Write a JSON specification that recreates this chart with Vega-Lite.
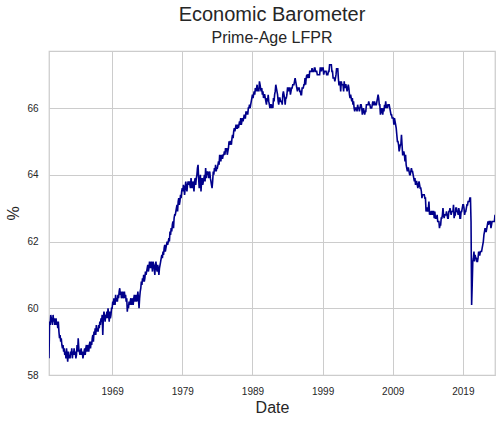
{
"$schema": "https://vega.github.io/schema/vega-lite/v6.json",
"autosize": "none",
"padding": {"left": 49, "top": 51, "right": 6, "bottom": 47},
"width": 446,
"height": 324,
"background": "white",
"title": {"text": "Economic Barometer", "subtitle": "Prime-Age LFPR", "font": "Liberation Sans", "subtitleFont": "Liberation Sans", "fontSize": 20, "subtitleFontSize": 16, "fontWeight": "normal", "color": "#262626", "subtitleColor": "#262626", "anchor": "middle", "frame": "group", "offset": 5, "subtitlePadding": 5},
"config": {
"view": {"stroke": "#cccccc", "strokeWidth": 1.25},
"axis": {"domain": false, "ticks": false, "grid": true, "gridColor": "#cccccc", "gridWidth": 1, "labelFont": "Liberation Sans", "labelFontSize": 10, "labelColor": "#262626", "titleFont": "Liberation Sans", "titleFontSize": 16, "titleFontWeight": "normal", "titleColor": "#262626"}
},
"data": {"values": [
{"d":"1960-01","v":58.5},{"d":"1960-02","v":59.6},{"d":"1960-03","v":59.5},{"d":"1960-04","v":59.8},{"d":"1960-05","v":59.7},{"d":"1960-06","v":59.6},{"d":"1960-07","v":59.5},{"d":"1960-08","v":59.8},{"d":"1960-09","v":59.6},{"d":"1960-10","v":59.7},{"d":"1960-11","v":59.5},{"d":"1960-12","v":59.6},
{"d":"1961-01","v":59.7},{"d":"1961-02","v":59.5},{"d":"1961-03","v":59.6},{"d":"1961-04","v":59.4},{"d":"1961-05","v":59.6},{"d":"1961-06","v":59.3},{"d":"1961-07","v":59.1},{"d":"1961-08","v":59.2},{"d":"1961-09","v":59.0},{"d":"1961-10","v":59.1},{"d":"1961-11","v":58.9},{"d":"1961-12","v":58.8},
{"d":"1962-01","v":58.9},{"d":"1962-02","v":58.7},{"d":"1962-03","v":58.8},{"d":"1962-04","v":58.6},{"d":"1962-05","v":58.7},{"d":"1962-06","v":58.5},{"d":"1962-07","v":58.8},{"d":"1962-08","v":58.6},{"d":"1962-09","v":58.4},{"d":"1962-10","v":58.7},{"d":"1962-11","v":58.5},{"d":"1962-12","v":58.6},
{"d":"1963-01","v":58.5},{"d":"1963-02","v":58.7},{"d":"1963-03","v":58.6},{"d":"1963-04","v":58.8},{"d":"1963-05","v":58.5},{"d":"1963-06","v":58.7},{"d":"1963-07","v":58.6},{"d":"1963-08","v":58.8},{"d":"1963-09","v":58.6},{"d":"1963-10","v":58.7},{"d":"1963-11","v":58.5},{"d":"1963-12","v":58.6},
{"d":"1964-01","v":58.9},{"d":"1964-02","v":58.7},{"d":"1964-03","v":59.1},{"d":"1964-04","v":58.8},{"d":"1964-05","v":58.7},{"d":"1964-06","v":58.6},{"d":"1964-07","v":58.7},{"d":"1964-08","v":58.8},{"d":"1964-09","v":58.6},{"d":"1964-10","v":58.7},{"d":"1964-11","v":58.5},{"d":"1964-12","v":58.6},
{"d":"1965-01","v":58.7},{"d":"1965-02","v":58.8},{"d":"1965-03","v":58.6},{"d":"1965-04","v":58.8},{"d":"1965-05","v":58.9},{"d":"1965-06","v":58.7},{"d":"1965-07","v":58.9},{"d":"1965-08","v":58.8},{"d":"1965-09","v":58.7},{"d":"1965-10","v":58.9},{"d":"1965-11","v":59.0},{"d":"1965-12","v":58.8},
{"d":"1966-01","v":59.0},{"d":"1966-02","v":58.9},{"d":"1966-03","v":59.1},{"d":"1966-04","v":59.2},{"d":"1966-05","v":59.0},{"d":"1966-06","v":59.3},{"d":"1966-07","v":59.2},{"d":"1966-08","v":59.4},{"d":"1966-09","v":59.2},{"d":"1966-10","v":59.5},{"d":"1966-11","v":59.3},{"d":"1966-12","v":59.4},
{"d":"1967-01","v":59.3},{"d":"1967-02","v":59.5},{"d":"1967-03","v":59.4},{"d":"1967-04","v":59.6},{"d":"1967-05","v":59.5},{"d":"1967-06","v":59.7},{"d":"1967-07","v":59.6},{"d":"1967-08","v":59.8},{"d":"1967-09","v":59.2},{"d":"1967-10","v":59.7},{"d":"1967-11","v":59.9},{"d":"1967-12","v":59.8},
{"d":"1968-01","v":59.6},{"d":"1968-02","v":59.8},{"d":"1968-03","v":59.7},{"d":"1968-04","v":59.9},{"d":"1968-05","v":59.7},{"d":"1968-06","v":60.0},{"d":"1968-07","v":59.8},{"d":"1968-08","v":59.6},{"d":"1968-09","v":59.9},{"d":"1968-10","v":59.7},{"d":"1968-11","v":59.8},{"d":"1968-12","v":60.0},
{"d":"1969-01","v":60.0},{"d":"1969-02","v":60.2},{"d":"1969-03","v":60.1},{"d":"1969-04","v":60.3},{"d":"1969-05","v":60.2},{"d":"1969-06","v":60.1},{"d":"1969-07","v":60.4},{"d":"1969-08","v":60.2},{"d":"1969-09","v":60.3},{"d":"1969-10","v":60.2},{"d":"1969-11","v":60.4},{"d":"1969-12","v":60.3},
{"d":"1970-01","v":60.5},{"d":"1970-02","v":60.6},{"d":"1970-03","v":60.4},{"d":"1970-04","v":60.5},{"d":"1970-05","v":60.3},{"d":"1970-06","v":60.4},{"d":"1970-07","v":60.5},{"d":"1970-08","v":60.3},{"d":"1970-09","v":60.4},{"d":"1970-10","v":60.5},{"d":"1970-11","v":60.3},{"d":"1970-12","v":60.4},
{"d":"1971-01","v":60.2},{"d":"1971-02","v":60.3},{"d":"1971-03","v":59.9},{"d":"1971-04","v":60.1},{"d":"1971-05","v":60.0},{"d":"1971-06","v":60.2},{"d":"1971-07","v":60.1},{"d":"1971-08","v":60.2},{"d":"1971-09","v":60.3},{"d":"1971-10","v":60.1},{"d":"1971-11","v":60.3},{"d":"1971-12","v":60.2},
{"d":"1972-01","v":60.1},{"d":"1972-02","v":60.3},{"d":"1972-03","v":60.4},{"d":"1972-04","v":60.2},{"d":"1972-05","v":60.3},{"d":"1972-06","v":60.4},{"d":"1972-07","v":60.2},{"d":"1972-08","v":60.3},{"d":"1972-09","v":60.5},{"d":"1972-10","v":60.3},{"d":"1972-11","v":60.0},{"d":"1972-12","v":60.3},
{"d":"1973-01","v":60.5},{"d":"1973-02","v":60.6},{"d":"1973-03","v":60.8},{"d":"1973-04","v":60.7},{"d":"1973-05","v":60.9},{"d":"1973-06","v":60.8},{"d":"1973-07","v":61.0},{"d":"1973-08","v":60.8},{"d":"1973-09","v":60.9},{"d":"1973-10","v":61.1},{"d":"1973-11","v":61.0},{"d":"1973-12","v":61.1},
{"d":"1974-01","v":61.2},{"d":"1974-02","v":61.3},{"d":"1974-03","v":61.1},{"d":"1974-04","v":61.2},{"d":"1974-05","v":61.4},{"d":"1974-06","v":61.3},{"d":"1974-07","v":61.2},{"d":"1974-08","v":61.4},{"d":"1974-09","v":61.3},{"d":"1974-10","v":61.1},{"d":"1974-11","v":61.4},{"d":"1974-12","v":61.3},
{"d":"1975-01","v":61.2},{"d":"1975-02","v":61.0},{"d":"1975-03","v":61.3},{"d":"1975-04","v":61.4},{"d":"1975-05","v":61.2},{"d":"1975-06","v":61.1},{"d":"1975-07","v":61.3},{"d":"1975-08","v":61.2},{"d":"1975-09","v":61.0},{"d":"1975-10","v":61.2},{"d":"1975-11","v":61.3},{"d":"1975-12","v":61.4},
{"d":"1976-01","v":61.5},{"d":"1976-02","v":61.6},{"d":"1976-03","v":61.5},{"d":"1976-04","v":61.7},{"d":"1976-05","v":61.6},{"d":"1976-06","v":61.8},{"d":"1976-07","v":61.9},{"d":"1976-08","v":61.7},{"d":"1976-09","v":61.8},{"d":"1976-10","v":61.9},{"d":"1976-11","v":62.0},{"d":"1976-12","v":61.9},
{"d":"1977-01","v":62.0},{"d":"1977-02","v":62.1},{"d":"1977-03","v":62.0},{"d":"1977-04","v":62.3},{"d":"1977-05","v":62.2},{"d":"1977-06","v":62.4},{"d":"1977-07","v":62.3},{"d":"1977-08","v":62.5},{"d":"1977-09","v":62.6},{"d":"1977-10","v":62.4},{"d":"1977-11","v":62.7},{"d":"1977-12","v":62.8},
{"d":"1978-01","v":62.8},{"d":"1978-02","v":62.9},{"d":"1978-03","v":63.0},{"d":"1978-04","v":63.1},{"d":"1978-05","v":62.9},{"d":"1978-06","v":63.2},{"d":"1978-07","v":63.3},{"d":"1978-08","v":63.1},{"d":"1978-09","v":63.2},{"d":"1978-10","v":63.4},{"d":"1978-11","v":63.3},{"d":"1978-12","v":63.5},
{"d":"1979-01","v":63.6},{"d":"1979-02","v":63.5},{"d":"1979-03","v":63.7},{"d":"1979-04","v":63.6},{"d":"1979-05","v":63.4},{"d":"1979-06","v":63.6},{"d":"1979-07","v":63.8},{"d":"1979-08","v":63.6},{"d":"1979-09","v":63.5},{"d":"1979-10","v":63.7},{"d":"1979-11","v":63.8},{"d":"1979-12","v":63.7},
{"d":"1980-01","v":63.8},{"d":"1980-02","v":63.7},{"d":"1980-03","v":63.6},{"d":"1980-04","v":63.9},{"d":"1980-05","v":63.7},{"d":"1980-06","v":63.6},{"d":"1980-07","v":63.8},{"d":"1980-08","v":63.7},{"d":"1980-09","v":63.5},{"d":"1980-10","v":63.8},{"d":"1980-11","v":63.9},{"d":"1980-12","v":63.7},
{"d":"1981-01","v":63.9},{"d":"1981-02","v":64.0},{"d":"1981-03","v":64.2},{"d":"1981-04","v":64.3},{"d":"1981-05","v":63.9},{"d":"1981-06","v":63.6},{"d":"1981-07","v":63.8},{"d":"1981-08","v":64.0},{"d":"1981-09","v":63.5},{"d":"1981-10","v":63.8},{"d":"1981-11","v":63.9},{"d":"1981-12","v":63.7},
{"d":"1982-01","v":63.8},{"d":"1982-02","v":63.9},{"d":"1982-03","v":64.0},{"d":"1982-04","v":63.8},{"d":"1982-05","v":64.2},{"d":"1982-06","v":63.9},{"d":"1982-07","v":64.1},{"d":"1982-08","v":64.0},{"d":"1982-09","v":64.1},{"d":"1982-10","v":63.9},{"d":"1982-11","v":64.0},{"d":"1982-12","v":64.1},
{"d":"1983-01","v":63.9},{"d":"1983-02","v":63.8},{"d":"1983-03","v":63.7},{"d":"1983-04","v":63.6},{"d":"1983-05","v":63.8},{"d":"1983-06","v":64.1},{"d":"1983-07","v":64.0},{"d":"1983-08","v":64.2},{"d":"1983-09","v":64.1},{"d":"1983-10","v":64.3},{"d":"1983-11","v":64.1},{"d":"1983-12","v":64.2},
{"d":"1984-01","v":64.2},{"d":"1984-02","v":64.3},{"d":"1984-03","v":64.4},{"d":"1984-04","v":64.3},{"d":"1984-05","v":64.6},{"d":"1984-06","v":64.5},{"d":"1984-07","v":64.4},{"d":"1984-08","v":64.6},{"d":"1984-09","v":64.5},{"d":"1984-10","v":64.5},{"d":"1984-11","v":64.6},{"d":"1984-12","v":64.6},
{"d":"1985-01","v":64.7},{"d":"1985-02","v":64.6},{"d":"1985-03","v":64.8},{"d":"1985-04","v":64.7},{"d":"1985-05","v":64.8},{"d":"1985-06","v":64.6},{"d":"1985-07","v":64.7},{"d":"1985-08","v":64.8},{"d":"1985-09","v":65.0},{"d":"1985-10","v":64.9},{"d":"1985-11","v":65.0},{"d":"1985-12","v":65.0},
{"d":"1986-01","v":64.9},{"d":"1986-02","v":65.1},{"d":"1986-03","v":65.2},{"d":"1986-04","v":65.1},{"d":"1986-05","v":65.3},{"d":"1986-06","v":65.4},{"d":"1986-07","v":65.3},{"d":"1986-08","v":65.4},{"d":"1986-09","v":65.5},{"d":"1986-10","v":65.4},{"d":"1986-11","v":65.4},{"d":"1986-12","v":65.5},
{"d":"1987-01","v":65.4},{"d":"1987-02","v":65.5},{"d":"1987-03","v":65.6},{"d":"1987-04","v":65.5},{"d":"1987-05","v":65.7},{"d":"1987-06","v":65.5},{"d":"1987-07","v":65.6},{"d":"1987-08","v":65.7},{"d":"1987-09","v":65.6},{"d":"1987-10","v":65.7},{"d":"1987-11","v":65.8},{"d":"1987-12","v":65.7},
{"d":"1988-01","v":65.7},{"d":"1988-02","v":65.9},{"d":"1988-03","v":65.8},{"d":"1988-04","v":65.9},{"d":"1988-05","v":65.8},{"d":"1988-06","v":66.0},{"d":"1988-07","v":66.0},{"d":"1988-08","v":66.1},{"d":"1988-09","v":66.0},{"d":"1988-10","v":66.1},{"d":"1988-11","v":66.2},{"d":"1988-12","v":66.3},
{"d":"1989-01","v":66.4},{"d":"1989-02","v":66.3},{"d":"1989-03","v":66.4},{"d":"1989-04","v":66.5},{"d":"1989-05","v":66.4},{"d":"1989-06","v":66.6},{"d":"1989-07","v":66.5},{"d":"1989-08","v":66.6},{"d":"1989-09","v":66.7},{"d":"1989-10","v":66.5},{"d":"1989-11","v":66.6},{"d":"1989-12","v":66.5},
{"d":"1990-01","v":66.8},{"d":"1990-02","v":66.7},{"d":"1990-03","v":66.6},{"d":"1990-04","v":66.5},{"d":"1990-05","v":66.6},{"d":"1990-06","v":66.4},{"d":"1990-07","v":66.5},{"d":"1990-08","v":66.3},{"d":"1990-09","v":66.4},{"d":"1990-10","v":66.4},{"d":"1990-11","v":66.3},{"d":"1990-12","v":66.2},
{"d":"1991-01","v":66.1},{"d":"1991-02","v":66.3},{"d":"1991-03","v":66.2},{"d":"1991-04","v":66.4},{"d":"1991-05","v":66.2},{"d":"1991-06","v":66.1},{"d":"1991-07","v":66.0},{"d":"1991-08","v":66.1},{"d":"1991-09","v":66.1},{"d":"1991-10","v":66.0},{"d":"1991-11","v":66.1},{"d":"1991-12","v":66.0},
{"d":"1992-01","v":66.3},{"d":"1992-02","v":66.2},{"d":"1992-03","v":66.4},{"d":"1992-04","v":66.5},{"d":"1992-05","v":66.7},{"d":"1992-06","v":66.6},{"d":"1992-07","v":66.5},{"d":"1992-08","v":66.4},{"d":"1992-09","v":66.2},{"d":"1992-10","v":66.1},{"d":"1992-11","v":66.3},{"d":"1992-12","v":66.3},
{"d":"1993-01","v":66.2},{"d":"1993-02","v":66.2},{"d":"1993-03","v":66.2},{"d":"1993-04","v":66.1},{"d":"1993-05","v":66.4},{"d":"1993-06","v":66.5},{"d":"1993-07","v":66.4},{"d":"1993-08","v":66.3},{"d":"1993-09","v":66.1},{"d":"1993-10","v":66.3},{"d":"1993-11","v":66.3},{"d":"1993-12","v":66.4},
{"d":"1994-01","v":66.6},{"d":"1994-02","v":66.6},{"d":"1994-03","v":66.5},{"d":"1994-04","v":66.6},{"d":"1994-05","v":66.6},{"d":"1994-06","v":66.4},{"d":"1994-07","v":66.5},{"d":"1994-08","v":66.6},{"d":"1994-09","v":66.6},{"d":"1994-10","v":66.7},{"d":"1994-11","v":66.7},{"d":"1994-12","v":66.7},
{"d":"1995-01","v":66.8},{"d":"1995-02","v":66.9},{"d":"1995-03","v":66.8},{"d":"1995-04","v":66.7},{"d":"1995-05","v":66.6},{"d":"1995-06","v":66.5},{"d":"1995-07","v":66.6},{"d":"1995-08","v":66.6},{"d":"1995-09","v":66.6},{"d":"1995-10","v":66.5},{"d":"1995-11","v":66.5},{"d":"1995-12","v":66.4},
{"d":"1996-01","v":66.4},{"d":"1996-02","v":66.6},{"d":"1996-03","v":66.6},{"d":"1996-04","v":66.6},{"d":"1996-05","v":66.7},{"d":"1996-06","v":66.7},{"d":"1996-07","v":66.9},{"d":"1996-08","v":66.7},{"d":"1996-09","v":66.9},{"d":"1996-10","v":67.0},{"d":"1996-11","v":66.9},{"d":"1996-12","v":67.0},
{"d":"1997-01","v":67.0},{"d":"1997-02","v":66.9},{"d":"1997-03","v":67.1},{"d":"1997-04","v":67.1},{"d":"1997-05","v":67.1},{"d":"1997-06","v":67.1},{"d":"1997-07","v":67.2},{"d":"1997-08","v":67.1},{"d":"1997-09","v":67.1},{"d":"1997-10","v":67.1},{"d":"1997-11","v":67.2},{"d":"1997-12","v":67.2},
{"d":"1998-01","v":67.1},{"d":"1998-02","v":67.1},{"d":"1998-03","v":67.1},{"d":"1998-04","v":67.0},{"d":"1998-05","v":67.0},{"d":"1998-06","v":67.0},{"d":"1998-07","v":67.0},{"d":"1998-08","v":67.0},{"d":"1998-09","v":67.2},{"d":"1998-10","v":67.2},{"d":"1998-11","v":67.1},{"d":"1998-12","v":67.2},
{"d":"1999-01","v":67.2},{"d":"1999-02","v":67.2},{"d":"1999-03","v":67.0},{"d":"1999-04","v":67.1},{"d":"1999-05","v":67.1},{"d":"1999-06","v":67.1},{"d":"1999-07","v":67.1},{"d":"1999-08","v":67.0},{"d":"1999-09","v":67.0},{"d":"1999-10","v":67.0},{"d":"1999-11","v":67.1},{"d":"1999-12","v":67.1},
{"d":"2000-01","v":67.3},{"d":"2000-02","v":67.3},{"d":"2000-03","v":67.3},{"d":"2000-04","v":67.3},{"d":"2000-05","v":67.1},{"d":"2000-06","v":67.1},{"d":"2000-07","v":66.9},{"d":"2000-08","v":66.9},{"d":"2000-09","v":66.9},{"d":"2000-10","v":66.8},{"d":"2000-11","v":66.9},{"d":"2000-12","v":67.0},
{"d":"2001-01","v":67.2},{"d":"2001-02","v":67.1},{"d":"2001-03","v":67.2},{"d":"2001-04","v":66.9},{"d":"2001-05","v":66.7},{"d":"2001-06","v":66.7},{"d":"2001-07","v":66.8},{"d":"2001-08","v":66.5},{"d":"2001-09","v":66.8},{"d":"2001-10","v":66.7},{"d":"2001-11","v":66.7},{"d":"2001-12","v":66.7},
{"d":"2002-01","v":66.5},{"d":"2002-02","v":66.8},{"d":"2002-03","v":66.6},{"d":"2002-04","v":66.7},{"d":"2002-05","v":66.7},{"d":"2002-06","v":66.6},{"d":"2002-07","v":66.5},{"d":"2002-08","v":66.6},{"d":"2002-09","v":66.7},{"d":"2002-10","v":66.6},{"d":"2002-11","v":66.4},{"d":"2002-12","v":66.3},
{"d":"2003-01","v":66.4},{"d":"2003-02","v":66.3},{"d":"2003-03","v":66.2},{"d":"2003-04","v":66.3},{"d":"2003-05","v":66.1},{"d":"2003-06","v":66.2},{"d":"2003-07","v":66.0},{"d":"2003-08","v":65.9},{"d":"2003-09","v":66.0},{"d":"2003-10","v":66.0},{"d":"2003-11","v":66.0},{"d":"2003-12","v":65.9},
{"d":"2004-01","v":66.1},{"d":"2004-02","v":66.0},{"d":"2004-03","v":66.0},{"d":"2004-04","v":65.9},{"d":"2004-05","v":66.0},{"d":"2004-06","v":66.1},{"d":"2004-07","v":66.1},{"d":"2004-08","v":66.0},{"d":"2004-09","v":65.8},{"d":"2004-10","v":65.9},{"d":"2004-11","v":66.0},{"d":"2004-12","v":65.9},
{"d":"2005-01","v":65.8},{"d":"2005-02","v":65.9},{"d":"2005-03","v":65.9},{"d":"2005-04","v":66.1},{"d":"2005-05","v":66.1},{"d":"2005-06","v":66.1},{"d":"2005-07","v":66.1},{"d":"2005-08","v":66.2},{"d":"2005-09","v":66.1},{"d":"2005-10","v":66.1},{"d":"2005-11","v":66.0},{"d":"2005-12","v":66.0},
{"d":"2006-01","v":66.0},{"d":"2006-02","v":66.1},{"d":"2006-03","v":66.2},{"d":"2006-04","v":66.1},{"d":"2006-05","v":66.1},{"d":"2006-06","v":66.2},{"d":"2006-07","v":66.1},{"d":"2006-08","v":66.1},{"d":"2006-09","v":66.1},{"d":"2006-10","v":66.2},{"d":"2006-11","v":66.3},{"d":"2006-12","v":66.4},
{"d":"2007-01","v":66.3},{"d":"2007-02","v":66.1},{"d":"2007-03","v":66.1},{"d":"2007-04","v":65.8},{"d":"2007-05","v":65.9},{"d":"2007-06","v":66.0},{"d":"2007-07","v":65.9},{"d":"2007-08","v":65.8},{"d":"2007-09","v":66.0},{"d":"2007-10","v":65.9},{"d":"2007-11","v":66.1},{"d":"2007-12","v":66.0},
{"d":"2008-01","v":66.2},{"d":"2008-02","v":66.0},{"d":"2008-03","v":66.1},{"d":"2008-04","v":66.0},{"d":"2008-05","v":66.1},{"d":"2008-06","v":66.1},{"d":"2008-07","v":66.1},{"d":"2008-08","v":66.0},{"d":"2008-09","v":65.9},{"d":"2008-10","v":65.8},{"d":"2008-11","v":65.8},{"d":"2008-12","v":65.7},
{"d":"2009-01","v":65.7},{"d":"2009-02","v":65.7},{"d":"2009-03","v":65.5},{"d":"2009-04","v":65.7},{"d":"2009-05","v":65.6},{"d":"2009-06","v":65.5},{"d":"2009-07","v":65.4},{"d":"2009-08","v":65.2},{"d":"2009-09","v":65.0},{"d":"2009-10","v":65.0},{"d":"2009-11","v":64.9},{"d":"2009-12","v":64.7},
{"d":"2010-01","v":64.8},{"d":"2010-02","v":64.9},{"d":"2010-03","v":64.9},{"d":"2010-04","v":65.2},{"d":"2010-05","v":64.9},{"d":"2010-06","v":64.6},{"d":"2010-07","v":64.6},{"d":"2010-08","v":64.7},{"d":"2010-09","v":64.6},{"d":"2010-10","v":64.4},{"d":"2010-11","v":64.6},{"d":"2010-12","v":64.3},
{"d":"2011-01","v":64.2},{"d":"2011-02","v":64.1},{"d":"2011-03","v":64.2},{"d":"2011-04","v":64.2},{"d":"2011-05","v":64.1},{"d":"2011-06","v":64.0},{"d":"2011-07","v":64.0},{"d":"2011-08","v":64.1},{"d":"2011-09","v":64.2},{"d":"2011-10","v":64.1},{"d":"2011-11","v":64.1},{"d":"2011-12","v":64.0},
{"d":"2012-01","v":63.9},{"d":"2012-02","v":63.8},{"d":"2012-03","v":63.9},{"d":"2012-04","v":63.7},{"d":"2012-05","v":63.8},{"d":"2012-06","v":63.8},{"d":"2012-07","v":63.7},{"d":"2012-08","v":63.6},{"d":"2012-09","v":63.7},{"d":"2012-10","v":63.8},{"d":"2012-11","v":63.7},{"d":"2012-12","v":63.6},
{"d":"2013-01","v":63.6},{"d":"2013-02","v":63.5},{"d":"2013-03","v":63.3},{"d":"2013-04","v":63.4},{"d":"2013-05","v":63.4},{"d":"2013-06","v":63.4},{"d":"2013-07","v":63.4},{"d":"2013-08","v":63.3},{"d":"2013-09","v":63.3},{"d":"2013-10","v":62.9},{"d":"2013-11","v":63.0},{"d":"2013-12","v":63.0},
{"d":"2014-01","v":62.9},{"d":"2014-02","v":63.0},{"d":"2014-03","v":63.2},{"d":"2014-04","v":62.8},{"d":"2014-05","v":62.9},{"d":"2014-06","v":62.8},{"d":"2014-07","v":62.9},{"d":"2014-08","v":62.9},{"d":"2014-09","v":62.8},{"d":"2014-10","v":62.9},{"d":"2014-11","v":62.9},{"d":"2014-12","v":62.7},
{"d":"2015-01","v":62.9},{"d":"2015-02","v":62.7},{"d":"2015-03","v":62.7},{"d":"2015-04","v":62.7},{"d":"2015-05","v":62.8},{"d":"2015-06","v":62.6},{"d":"2015-07","v":62.6},{"d":"2015-08","v":62.6},{"d":"2015-09","v":62.4},{"d":"2015-10","v":62.5},{"d":"2015-11","v":62.5},{"d":"2015-12","v":62.7},
{"d":"2016-01","v":62.7},{"d":"2016-02","v":62.8},{"d":"2016-03","v":63.0},{"d":"2016-04","v":62.8},{"d":"2016-05","v":62.7},{"d":"2016-06","v":62.8},{"d":"2016-07","v":62.8},{"d":"2016-08","v":62.8},{"d":"2016-09","v":62.9},{"d":"2016-10","v":62.8},{"d":"2016-11","v":62.7},{"d":"2016-12","v":62.7},
{"d":"2017-01","v":62.9},{"d":"2017-02","v":62.9},{"d":"2017-03","v":63.0},{"d":"2017-04","v":62.9},{"d":"2017-05","v":62.8},{"d":"2017-06","v":62.9},{"d":"2017-07","v":62.9},{"d":"2017-08","v":62.9},{"d":"2017-09","v":63.1},{"d":"2017-10","v":62.7},{"d":"2017-11","v":62.8},{"d":"2017-12","v":62.8},
{"d":"2018-01","v":63.0},{"d":"2018-02","v":63.0},{"d":"2018-03","v":62.9},{"d":"2018-04","v":62.9},{"d":"2018-05","v":62.8},{"d":"2018-06","v":63.0},{"d":"2018-07","v":62.9},{"d":"2018-08","v":62.7},{"d":"2018-09","v":62.7},{"d":"2018-10","v":62.9},{"d":"2018-11","v":62.9},{"d":"2018-12","v":63.0},
{"d":"2019-01","v":63.1},{"d":"2019-02","v":63.1},{"d":"2019-03","v":63.0},{"d":"2019-04","v":62.8},{"d":"2019-05","v":62.9},{"d":"2019-06","v":62.9},{"d":"2019-07","v":63.0},{"d":"2019-08","v":63.1},{"d":"2019-09","v":63.1},{"d":"2019-10","v":63.2},{"d":"2019-11","v":63.2},{"d":"2019-12","v":63.2},
{"d":"2020-01","v":63.3},{"d":"2020-02","v":63.3},{"d":"2020-03","v":62.6},{"d":"2020-04","v":60.1},{"d":"2020-05","v":60.7},{"d":"2020-06","v":61.4},{"d":"2020-07","v":61.5},{"d":"2020-08","v":61.7},{"d":"2020-09","v":61.4},{"d":"2020-10","v":61.6},{"d":"2020-11","v":61.5},{"d":"2020-12","v":61.5},
{"d":"2021-01","v":61.4},{"d":"2021-02","v":61.4},{"d":"2021-03","v":61.5},{"d":"2021-04","v":61.7},{"d":"2021-05","v":61.6},{"d":"2021-06","v":61.6},{"d":"2021-07","v":61.7},{"d":"2021-08","v":61.7},{"d":"2021-09","v":61.7},{"d":"2021-10","v":61.8},{"d":"2021-11","v":61.9},{"d":"2021-12","v":62.0},
{"d":"2022-01","v":62.2},{"d":"2022-02","v":62.3},{"d":"2022-03","v":62.4},{"d":"2022-04","v":62.3},{"d":"2022-05","v":62.3},{"d":"2022-06","v":62.4},{"d":"2022-07","v":62.5},{"d":"2022-08","v":62.6},{"d":"2022-09","v":62.5},{"d":"2022-10","v":62.6},{"d":"2022-11","v":62.6},{"d":"2022-12","v":62.6},
{"d":"2023-01","v":62.4},{"d":"2023-02","v":62.5},{"d":"2023-03","v":62.6},{"d":"2023-04","v":62.6},{"d":"2023-05","v":62.6},{"d":"2023-06","v":62.6},{"d":"2023-07","v":62.6},{"d":"2023-08","v":62.8}
]},
"mark": {"type": "line", "color": "#00008b", "strokeWidth": 1.6, "clip": true},
"encoding": {
"x": {"field": "d", "type": "temporal", "title": "Date", "scale": {"type": "utc", "nice": false}, "axis": {"values": [{"year": 1969, "month": 1, "date": 1, "utc": true}, {"year": 1979, "month": 1, "date": 1, "utc": true}, {"year": 1989, "month": 1, "date": 1, "utc": true}, {"year": 1999, "month": 1, "date": 1, "utc": true}, {"year": 2009, "month": 1, "date": 1, "utc": true}, {"year": 2019, "month": 1, "date": 1, "utc": true}], "format": "%Y", "labelPadding": 11, "titlePadding": 3, "labelFlush": false}},
"y": {"field": "v", "type": "quantitative", "title": "%", "scale": {"domain": [58, 67.71], "nice": false, "zero": false}, "axis": {"values": [58, 60, 62, 64, 66], "labelPadding": 11, "titlePadding": 5}}
}
}
